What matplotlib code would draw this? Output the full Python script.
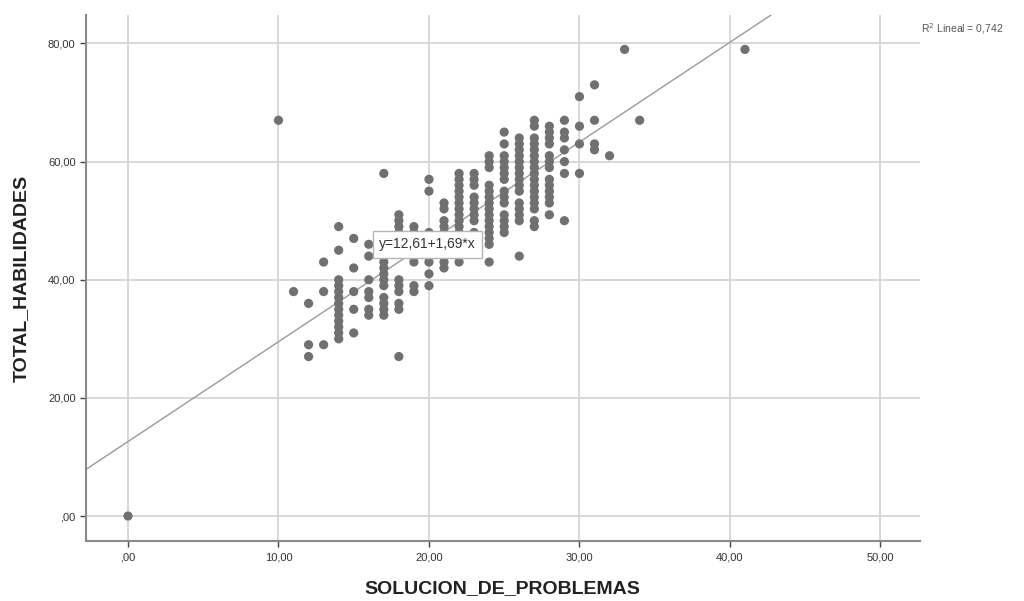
import matplotlib
matplotlib.use("Agg")
import matplotlib.pyplot as plt
from matplotlib.ticker import FuncFormatter

plt.rcParams['font.family'] = ['Liberation Sans', 'DejaVu Sans']

# SOLUCION_DE_PROBLEMAS (x) and TOTAL_HABILIDADES (y), one line per x value
sol_problemas = (
    [0] + [10] + [11] + [12] * 3 + [13] * 3 + [14] * 13 + [15] * 5 + [16] * 7
    + [17] * 11 + [18] * 13 + [19] * 9 + [20] * 9 + [21] * 11 + [22] * 14
    + [23] * 11 + [24] * 15 + [25] * 14 + [26] * 15 + [27] * 17 + [28] * 13
    + [29] * 7 + [30] * 4 + [31] * 4 + [32] + [33] + [34] + [41]
)
total_habilidades = (
    [0]
    + [67]
    + [38]
    + [36, 29, 27]
    + [43, 38, 29]
    + [49, 45, 40, 39, 38, 37, 36, 35, 34, 33, 32, 31, 30]
    + [47, 42, 38, 35, 31]
    + [46, 44, 40, 38, 37, 35, 34]
    + [58, 44, 43, 42, 41, 40, 39, 37, 36, 35, 34]
    + [51, 50, 49, 48, 47, 46, 45, 40, 39, 38, 36, 35, 27]
    + [49, 48, 47, 46, 45, 44, 43, 39, 38]
    + [57, 55, 48, 47, 46, 45, 43, 41, 39]
    + [53, 52, 50, 49, 48, 47, 46, 45, 44, 43, 42]
    + [58, 57, 56, 55, 54, 53, 52, 51, 50, 49, 48, 47, 46, 43]
    + [58, 57, 56, 54, 53, 52, 51, 50, 48, 47, 46]
    + [61, 60, 59, 56, 55, 54, 53, 52, 51, 50, 49, 48, 47, 46, 43]
    + [65, 63, 61, 60, 59, 58, 57, 55, 54, 53, 51, 50, 49, 48]
    + [64, 63, 62, 61, 60, 59, 58, 57, 56, 55, 53, 52, 51, 50, 44]
    + [67, 66, 64, 63, 62, 61, 60, 59, 58, 57, 56, 55, 54, 53, 52, 50, 49]
    + [66, 65, 64, 63, 61, 60, 59, 57, 56, 55, 54, 53, 51]
    + [67, 65, 64, 62, 60, 58, 50]
    + [71, 66, 63, 58]
    + [73, 67, 63, 62]
    + [61]
    + [79]
    + [67]
    + [79]
)

# linear fit as reported
intercept = 12.61
slope = 1.69
r2 = 0.742

x_ticks = [0, 10, 20, 30, 40, 50]
y_ticks = [0, 20, 40, 60, 80]

fig = plt.figure(figsize=(10.24, 6.01), dpi=100)
ax = fig.add_axes([0.084, 0.0998, 0.814, 0.875])

xmin, xmax = -2.79, 52.6
ymin, ymax = -4.23, 84.8

ax.grid(True, color='#d6d6d6', linewidth=1.3, zorder=0)
ax.set_axisbelow(True)

ax.scatter(sol_problemas, total_habilidades, s=44, color='#707070',
           edgecolors='none', zorder=3)

ax.plot([xmin, xmax], [intercept + slope * xmin, intercept + slope * xmax],
        color='#9a9a9a', linewidth=1.0, zorder=2)

ax.text(19.9, 46, f'y={intercept:.2f}+{slope:.2f}*x'.replace('.', ','),
        fontsize=10, color='#333333', ha='center', va='center', zorder=4,
        bbox=dict(boxstyle='square,pad=0.45', facecolor='white',
                  edgecolor='#b5b5b5', linewidth=1))

fig.text(0.899, 0.953, 'R$^2$ Lineal = ' + f'{r2:.3f}'.replace('.', ','),
         fontsize=7.5, color='#555555', ha='left', va='center')

ax.set_xlim(xmin, xmax)
ax.set_ylim(ymin, ymax)
ax.set_xticks(x_ticks)
ax.set_yticks(y_ticks)

fmt = FuncFormatter(lambda v, p: ',00' if v == 0 else f'{v:.0f},00')
ax.xaxis.set_major_formatter(fmt)
ax.yaxis.set_major_formatter(fmt)
ax.tick_params(labelsize=8, colors='#444444', length=4, width=1,
               labelcolor='#333333')
ax.tick_params(axis='x', pad=4)

for s in ['top', 'right']:
    ax.spines[s].set_visible(False)
for s in ['left', 'bottom']:
    ax.spines[s].set_color('#8a8a8a')
    ax.spines[s].set_linewidth(1.5)

ax.set_xlabel('SOLUCION_DE_PROBLEMAS', fontsize=14, fontweight='bold',
              color='#222222', labelpad=13)
ax.set_ylabel('TOTAL_HABILIDADES', fontsize=14, fontweight='bold',
              color='#222222', labelpad=13)

fig.savefig('out.png', dpi=100)
